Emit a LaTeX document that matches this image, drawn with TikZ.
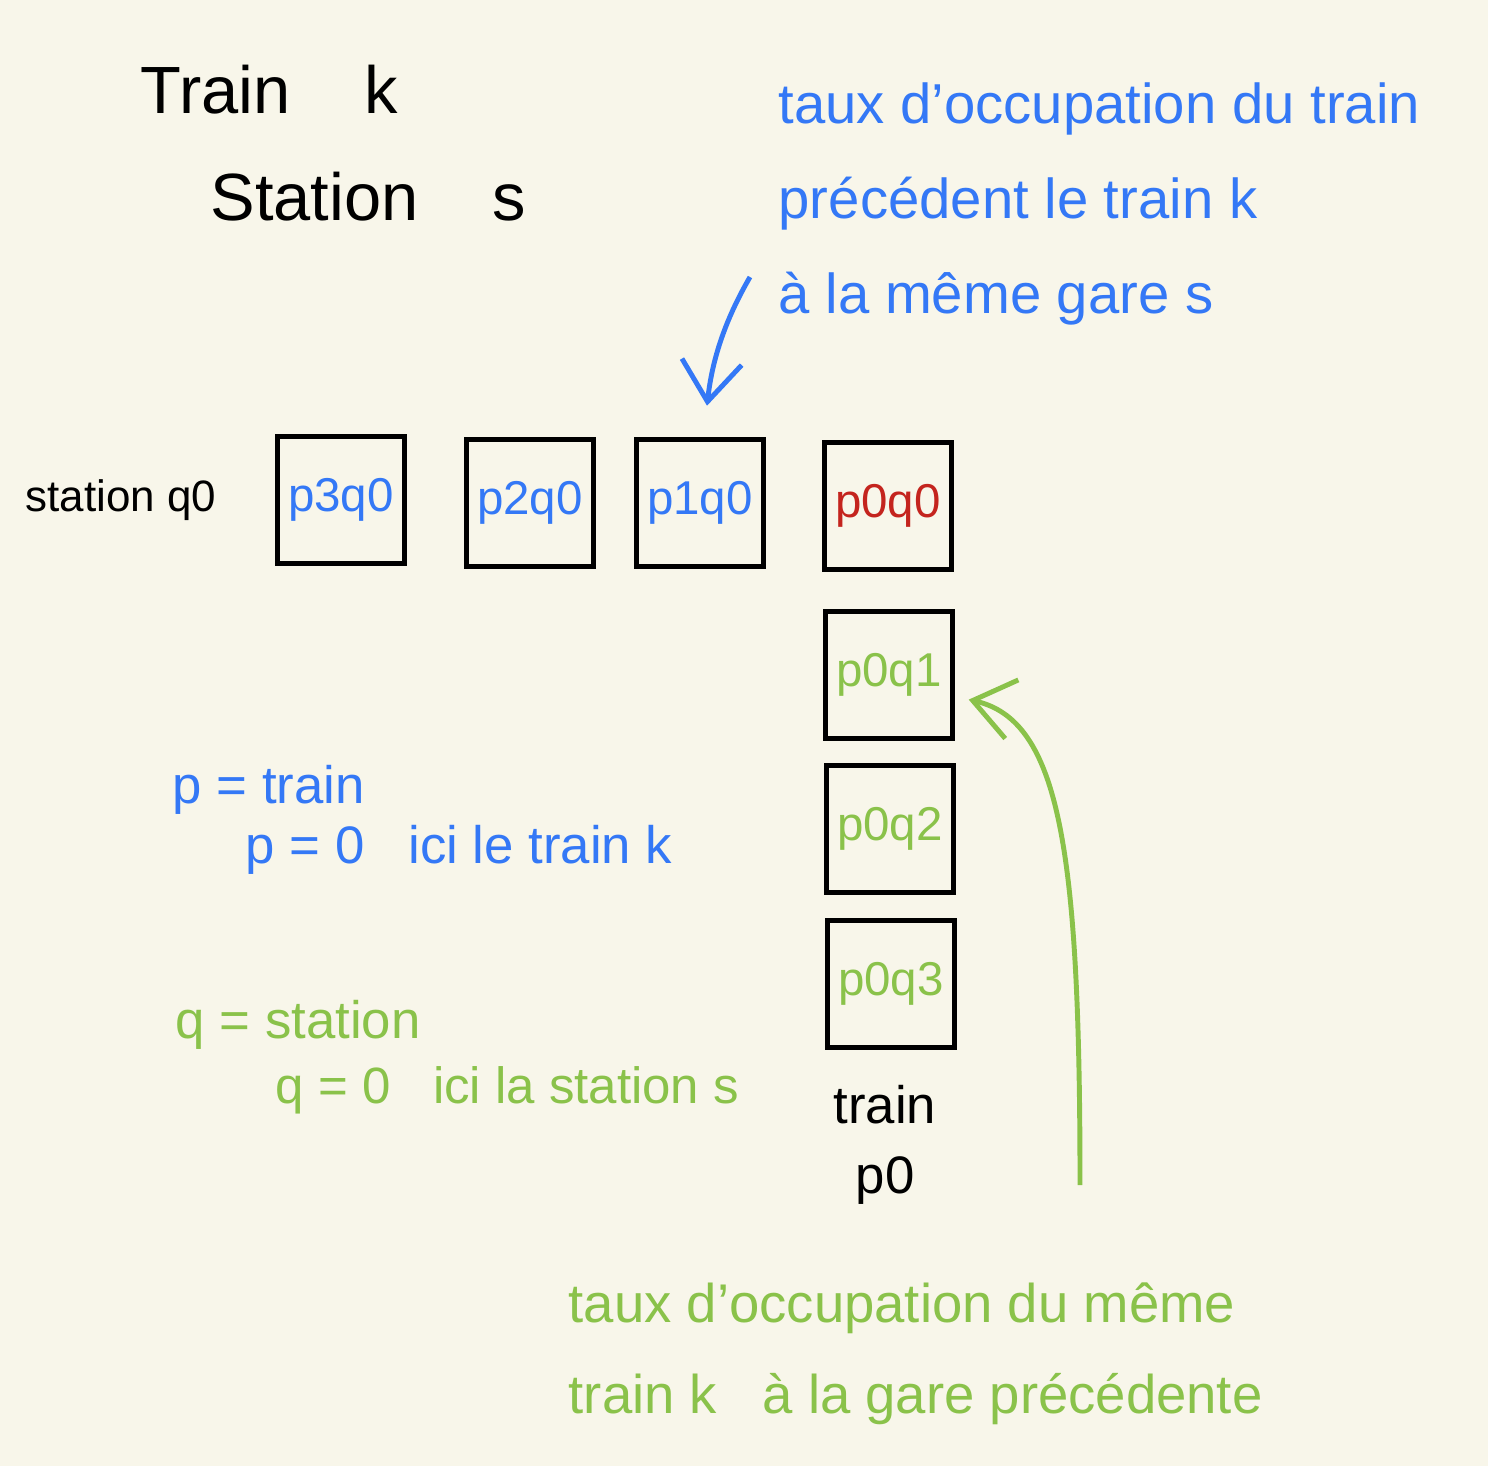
\documentclass[tikz,border=0pt]{standalone}
\usepackage{fontspec}
\setmainfont{Liberation Sans}
\usepackage{xcolor}
\usepackage{tikz}
\usetikzlibrary{arrows.meta,positioning,calc}
\definecolor{paper}{RGB}{248,246,234}
\definecolor{hblue}{RGB}{52,120,246}
\definecolor{hgreen}{RGB}{138,194,74}
\definecolor{hred}{RGB}{196,36,30}
\tikzset{
  cell/.style  ={rectangle, draw=black, line width=1.2pt, minimum size=1.27cm,
                 inner sep=0pt, font=\fontsize{13.5}{16}\selectfont},
  note/.style  ={align=left, inner sep=0pt, font=\fontsize{16}{27}\selectfont},
  hand/.style  ={inner sep=0pt, font=\fontsize{15}{20}\selectfont},
  arb/.style   ={-{Straight Barb[length=4mm,width=6mm]}, draw=hblue, line width=1.4pt},
  arv/.style   ={-{Straight Barb[length=4mm,width=6mm]}, draw=hgreen, line width=1.4pt}
}
\begin{document}
\begin{tikzpicture}[x=0.01cm, y=-0.01cm]
\fill[paper] (0,0) rectangle (1488,1466);
\useasboundingbox (0,0) rectangle (1488,1466);
% en-tete
\node[hand, font=\fontsize{19}{24}\selectfont, anchor=west] (train) at (140,90) {Train \;\; k};
\node[hand, font=\fontsize{19}{24}\selectfont, anchor=west] (station) at (210,197) {Station \;\; s};
% remarque du haut
\node[note, text=hblue, anchor=north west] (precnote) at (778,82)
  {taux d'occupation du train\\précédent le train k\\à la même gare s};
% ligne de la station
\node[hand, font=\fontsize{12.5}{16}\selectfont, anchor=west] (stq) at (25,500) {station q0};
\node[cell, text=hblue] (p3q0) at (341,500) {p3q0};
\node[cell, text=hblue] (p2q0) at (530,503) {p2q0};
\node[cell, text=hblue] (p1q0) at (700,503) {p1q0};
\node[cell, text=hred]  (p0q0) at (888,506) {p0q0};
% colonne du train
\node[cell, text=hgreen] (p0q1) at (889,675) {p0q1};
\node[cell, text=hgreen] (p0q2) at (890,829) {p0q2};
\node[cell, text=hgreen] (p0q3) at (891,984) {p0q3};
\node[hand, align=center, font=\fontsize{15}{20}\selectfont] (trp) at (885,1145) {train\\p0};
% legende
\node[hand, text=hblue, anchor=west] (pdef) at (172,790) {p = train};
\node[hand, text=hblue, anchor=west] (pzero) at (245,850) {p = 0 \; ici le train k};
\node[hand, text=hgreen, anchor=west] (qdef) at (175,1025) {q = station};
\node[hand, text=hgreen, anchor=west, font=\fontsize{14.5}{20}\selectfont] (qzero) at (275,1090) {q = 0 \; ici la station s};
% remarque du bas
\node[note, text=hgreen, anchor=north west, font=\fontsize{15.5}{26}\selectfont] (samenote) at (568,1282)
  {taux d'occupation du même\\train k \; à la gare précédente};
% fleches
\coordinate (bstart) at (750,277);
\coordinate (gstart) at (1080,1185);
\draw[arb] (bstart) .. controls (725,320) and (712,360) .. ([xshift=2pt,yshift=9pt]p1q0.north);
\draw[arv] (gstart) .. controls (1080,850) and (1060,720) .. ([xshift=4pt,yshift=-7pt]p0q1.east);
\end{tikzpicture}
\end{document}
